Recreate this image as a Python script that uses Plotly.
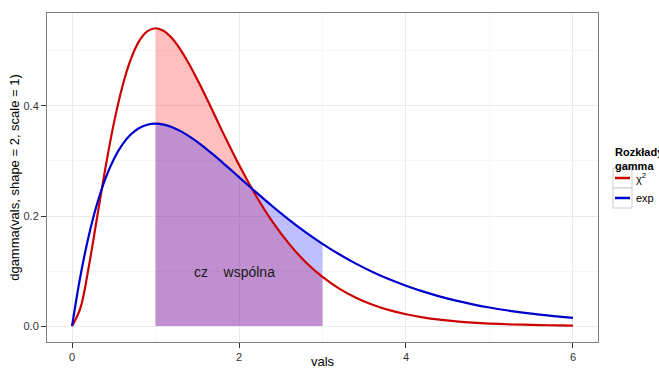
import plotly.graph_objects as go

# sample points along x
vals = [0.0, 0.1, 0.2, 0.3, 0.4, 0.5, 0.6, 0.7, 0.8, 0.9, 1.0,
        1.1, 1.2, 1.3, 1.4, 1.5, 1.6, 1.7, 1.8, 1.9, 2.0,
        2.2, 2.4, 2.6, 2.8, 3.0,
        3.2, 3.4, 3.6, 3.8, 4.0, 4.2, 4.4, 4.6, 4.8, 5.0,
        5.2, 5.4, 5.6, 5.8, 6.0]

# chi-square shaped density (red)
chi2_dens = [0.0, 0.0327, 0.1073, 0.1976, 0.2876, 0.3679, 0.4337, 0.4833, 0.5169, 0.5356, 0.5413,
             0.5363, 0.5225, 0.5020, 0.4767, 0.4481, 0.4178, 0.3858, 0.3538, 0.3230, 0.2931,
             0.2377, 0.1896, 0.1493, 0.1160, 0.0892,
             0.0680, 0.0515, 0.0387, 0.0289, 0.0215, 0.0159, 0.0117, 0.0086, 0.0062, 0.0045,
             0.0033, 0.0024, 0.0017, 0.0012, 0.0009]

# exp-family density, shape 2 scale 1 (blue)
exp_dens = [0.0, 0.0905, 0.1637, 0.2222, 0.2681, 0.3033, 0.3293, 0.3476, 0.3595, 0.3659, 0.3679,
            0.3662, 0.3614, 0.3543, 0.3452, 0.3347, 0.3230, 0.3106, 0.2975, 0.2842, 0.2707,
            0.2438, 0.2177, 0.1931, 0.1703, 0.1494,
            0.1304, 0.1135, 0.0984, 0.0850, 0.0733, 0.0630, 0.0540, 0.0462, 0.0395, 0.0337,
            0.0287, 0.0244, 0.0207, 0.0176, 0.0149]

series_names = ["χ<sup>2</sup>", "exp"]
legend_title = "<b>Rozkłady<br>gamma</b>"

shade_from, shade_to = 1.0, 3.0
label_text = "cz    wspólna"
label_x, label_y = 1.94, 0.098

RED = "#CC0000"
BLUE = "#0000CC"
colors = [RED, BLUE]

W, H = 659, 369
ML, MR, MT, MB = 47, 61, 13, 27
PW, PH = W - ML - MR, H - MT - MB


def px_x(p):
    return (p - ML) / PW


def px_y(p):
    return (H - MB - p) / PH


idx = [i for i, v in enumerate(vals) if shade_from <= v <= shade_to]
sx = [vals[i] for i in idx]

fig = go.Figure()

# shaded areas between the bounds
fig.add_trace(go.Scatter(x=sx, y=[chi2_dens[i] for i in idx], mode="lines",
                         line=dict(width=0, shape="spline"), fill="tozeroy",
                         fillcolor="rgba(255,0,0,0.25)", showlegend=False, hoverinfo="skip"))
fig.add_trace(go.Scatter(x=sx, y=[exp_dens[i] for i in idx], mode="lines",
                         line=dict(width=0, shape="spline"), fill="tozeroy",
                         fillcolor="rgba(0,0,255,0.25)", showlegend=False, hoverinfo="skip"))

# density curves
for name, ys, col in zip(series_names, [chi2_dens, exp_dens], colors):
    fig.add_trace(go.Scatter(x=vals, y=ys, mode="lines", name=name, showlegend=False,
                             line=dict(color=col, width=2.2, shape="spline")))

fig.add_annotation(x=label_x, y=label_y, text=label_text, showarrow=False,
                   font=dict(size=14, color="#1a1a1a"))

# legend drawn by hand: title, keyed boxes and labels
fig.add_annotation(xref="paper", yref="paper", x=px_x(613), y=px_y(144),
                   xanchor="left", yanchor="top", align="left", showarrow=False,
                   text=legend_title, font=dict(size=11, color="#000000"))
key_top = 168
key_h = 20
for k, (name, col) in enumerate(zip(series_names, colors)):
    y0 = key_top + k * key_h
    fig.add_shape(type="rect", xref="paper", yref="paper",
                  x0=px_x(613), x1=px_x(632), y0=px_y(y0), y1=px_y(y0 + key_h),
                  line=dict(color="#cccccc", width=1), fillcolor="white")
    fig.add_shape(type="line", xref="paper", yref="paper",
                  x0=px_x(615), x1=px_x(630), y0=px_y(y0 + key_h / 2), y1=px_y(y0 + key_h / 2),
                  line=dict(color=col, width=2.5))
    fig.add_annotation(xref="paper", yref="paper", x=px_x(634), y=px_y(y0 + key_h / 2),
                       xanchor="left", yanchor="middle", showarrow=False,
                       text=name, font=dict(size=11, color="#000000"))

axis_common = dict(
    showline=True, linecolor="#7f7f7f", linewidth=1, mirror=True,
    ticks="outside", ticklen=5, tickcolor="#333333", tickwidth=1,
    gridcolor="#ebebeb", gridwidth=1, zeroline=False, automargin=False,
    tickfont=dict(size=11, color="#333333"),
)

fig.update_xaxes(range=[-0.3, 6.3], tickvals=[0, 2, 4, 6], ticktext=["0", "2", "4", "6"],
                 minor=dict(tickvals=[1, 3, 5], showgrid=True, gridcolor="#f7f7f7", ticks=""),
                 title=dict(text="vals", font=dict(size=13, color="#000000"), standoff=6),
                 **axis_common)
fig.update_yaxes(range=[-0.029, 0.569], tickvals=[0.0, 0.2, 0.4], ticktext=["0.0", "0.2", "0.4"],
                 minor=dict(tickvals=[0.1, 0.3, 0.5], showgrid=True, gridcolor="#f7f7f7", ticks=""),
                 title=dict(text="dgamma(vals, shape = 2, scale = 1)",
                            font=dict(size=13, color="#000000"), standoff=0),
                 **axis_common)

fig.update_layout(
    width=W, height=H,
    margin=dict(l=ML, r=MR, t=MT, b=MB, autoexpand=False),
    plot_bgcolor="white", paper_bgcolor="white",
    font=dict(family="Liberation Sans, Arial", color="#000000"),
    showlegend=False,
)

fig.write_html("out.html")
